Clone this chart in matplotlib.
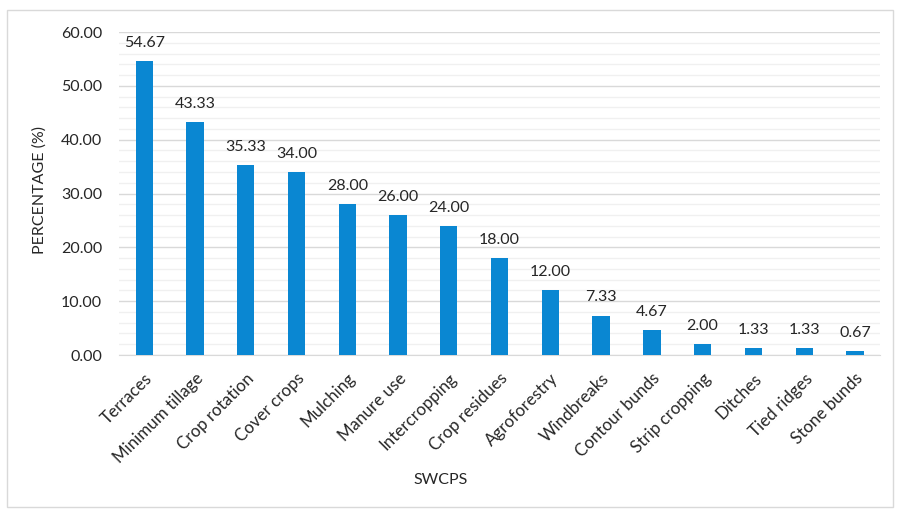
import matplotlib.pyplot as plt
import numpy as np
from matplotlib.patches import Rectangle
from matplotlib.ticker import MultipleLocator
from matplotlib.transforms import ScaledTranslation

plt.rcParams['font.family'] = ['Lato', 'DejaVu Sans']

practices = ["Terraces", "Minimum tillage", "Crop rotation", "Cover crops", "Mulching",
             "Manure use", "Intercropping", "Crop residues", "Agroforestry", "Windbreaks",
             "Contour bunds", "Strip cropping", "Ditches", "Tied ridges", "Stone bunds"]
percent = [54.67, 43.33, 35.33, 34.00, 28.00, 26.00, 24.00, 18.00, 12.00, 7.33,
           4.67, 2.00, 1.33, 1.33, 0.67]

bar_color = '#0a87d2'
text_color = '#262626'
fs = 11.5

fig = plt.figure(figsize=(9.01, 5.17), dpi=100)
ax = fig.add_axes([0.132, 0.3133, 0.845, 0.6247])

x = np.arange(len(practices))
ax.bar(x, percent, width=0.34, color=bar_color, zorder=3)

for xi, v in zip(x, percent):
    ax.annotate(f"{v:.2f}", (xi, v), xytext=(0, 8), textcoords='offset points',
                ha='center', va='bottom', fontsize=fs, color=text_color)

ax.set_xlim(-0.5, len(practices) - 0.5)
ax.set_ylim(0, 60)
ax.yaxis.set_major_locator(MultipleLocator(10))
ax.yaxis.set_minor_locator(MultipleLocator(2))
ax.yaxis.set_major_formatter(lambda v, pos: f"{v:.2f}")
ax.grid(axis='y', which='major', color='#d9d9d9', linewidth=1.0, zorder=0)
ax.grid(axis='y', which='minor', color='#f0f0f0', linewidth=1.0, zorder=0)

ax.set_xticks(x)
ax.set_xticklabels(practices, rotation=45, ha='right', rotation_mode='anchor',
                   fontsize=12.2, color=text_color)
shift = ScaledTranslation(5 / 100, 0, fig.dpi_scale_trans)
for lbl in ax.get_xticklabels():
    lbl.set_transform(lbl.get_transform() + shift)
ax.tick_params(axis='both', which='both', length=0)
ax.tick_params(axis='x', pad=11)
ax.tick_params(axis='y', labelsize=fs, labelcolor=text_color, pad=12)

for side in ['top', 'right', 'left']:
    ax.spines[side].set_visible(False)
ax.spines['bottom'].set_color('#d9d9d9')

ax.set_xlabel("SWCPS", fontsize=fs, color=text_color)
ax.xaxis.set_label_coords(0.423, -0.365)
ax.set_ylabel("PERCENTAGE (%)", fontsize=fs, color=text_color)
ax.yaxis.set_label_coords(-0.095, 0.51)

# chart area border
fig.patches.append(Rectangle((7 / 901, 10 / 517), 886 / 901, 497 / 517,
                             transform=fig.transFigure, fill=False,
                             edgecolor='#d9d9d9', linewidth=1.0))

fig.savefig("out.png", dpi=100)
